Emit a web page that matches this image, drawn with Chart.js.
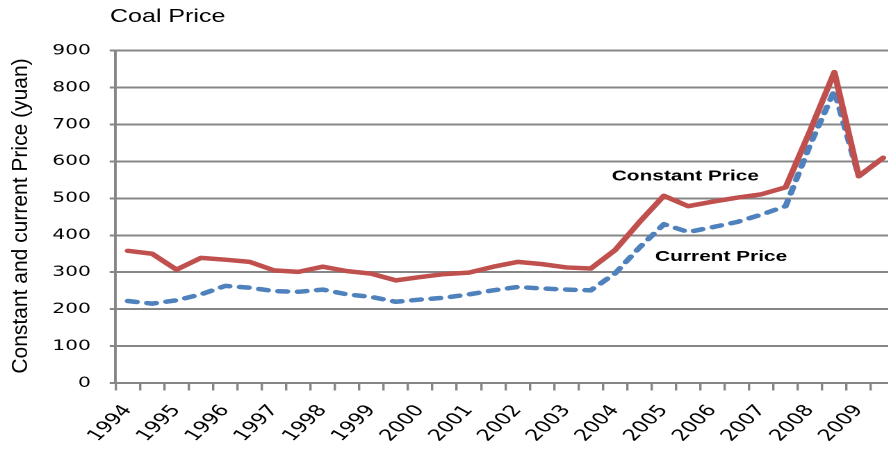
<!DOCTYPE html>
<html>
<head>
<meta charset="utf-8">
<script src="https://cdn.jsdelivr.net/npm/chart.js@4.4.1/dist/chart.umd.min.js"></script>
<style>
  html, body { margin: 0; padding: 0; background: #fff; overflow: hidden; width: 888px; height: 449px; }
  /* the whole drawing is widened horizontally by STRETCH */
  #wrap { position: absolute; left: 0; top: 0; width: 650px; height: 449px; transform: scaleX(1.39); transform-origin: 0 0; }
</style>
</head>
<body>
<div id="wrap"><canvas id="chart" width="650" height="449"></canvas></div>
<script>
// Half-yearly coal prices, 1994-2009
const years = ['1994', '1995', '1996', '1997', '1998', '1999', '2000', '2001',
               '2002', '2003', '2004', '2005', '2006', '2007', '2008', '2009'];
const halves = ['H1', 'H2'];
const periods = years.flatMap(y => halves.map(h => y + ' ' + h));
// only the first half of each year carries the year label
const periodTickLabels = periods.map(p => p.endsWith('H1') ? p.slice(0, 4) : '');

const constantPrice = [358, 350, 307, 339, 334, 328, 305, 301, 315, 303, 296, 278, 287, 295, 299, 315,
                       328, 322, 313, 310, 360, 436, 507, 479, 491, 502, 511, 530, 683, 842, 560, 610];
const currentPrice  = [222, 215, 224, 240, 263, 258, 249, 247, 253, 240, 233, 220, 226, 231, 240, 251,
                       260, 256, 253, 251, 297, 367, 430, 409, 422, 436, 456, 479, 645, 792, 560, 610];

const yTickValues = [0, 100, 200, 300, 400, 500, 600, 700, 800, 900];

const seriesNames = ['Constant Price', 'Current Price'];
const chartTitle = 'Coal Price';
const yAxisTitle = 'Constant and current Price (yuan)';

const STRETCH = 1.39;
const GRID = '#868686';

// heading, rotated axis title and the in-chart series labels
const chartTexts = {
  id: 'chartTexts',
  afterDraw(chart, args, opts) {
    const { ctx, scales: { x, y } } = chart;
    ctx.save();
    ctx.fillStyle = '#000';
    ctx.textBaseline = 'middle';

    ctx.font = '18px "Liberation Sans", Arial, sans-serif';
    ctx.textAlign = 'left';
    ctx.fillText(chartTitle, 79.1, 17);

    ctx.save();
    ctx.translate(15.1, 216);
    ctx.rotate(-Math.PI / 2);
    ctx.scale(1.33, 1);
    ctx.font = '15.8px "Liberation Sans", Arial, sans-serif';
    ctx.textAlign = 'center';
    ctx.fillText(yAxisTitle, 0, 0);
    ctx.restore();

    ctx.font = 'bold 15px "Liberation Sans", Arial, sans-serif';
    ctx.textAlign = 'left';
    for (const item of opts.items) {
      ctx.fillText(item.text, x.getPixelForValue(item.at), y.getPixelForValue(item.value));
    }
    ctx.restore();
  }
};

new Chart(document.getElementById('chart'), {
  type: 'line',
  data: {
    labels: periods,
    datasets: [
      {
        label: seriesNames[0],
        data: constantPrice,
        borderColor: '#C0504D',
        borderWidth: 4.5,
        borderCapStyle: 'round',
        borderJoinStyle: 'round',
        pointRadius: 0,
        tension: 0,
        fill: false
      },
      {
        label: seriesNames[1],
        data: currentPrice,
        borderColor: '#4F81BD',
        borderWidth: 4.5,
        borderDash: [6.5, 7.5],
        borderCapStyle: 'round',
        borderJoinStyle: 'round',
        pointRadius: 0,
        tension: 0,
        fill: false
      }
    ]
  },
  options: {
    responsive: false,
    animation: false,
    devicePixelRatio: 2,
    layout: { padding: { left: 0, right: 5.9, top: 50.7, bottom: 0 } },
    plugins: {
      legend: { display: false },
      tooltip: { enabled: false },
      chartTexts: {
        items: [
          { text: seriesNames[0], at: 19.86, value: 559 },
          { text: seriesNames[1], at: 21.64, value: 342 }
        ]
      }
    },
    scales: {
      x: {
        type: 'category',
        offset: true,
        grid: { display: true, drawOnChartArea: false, drawTicks: true, tickLength: 7.5, color: GRID, lineWidth: 1.7, offset: true },
        border: { display: true, color: GRID, width: 2 },
        ticks: {
          autoSkip: false,
          minRotation: 52,
          maxRotation: 52,
          padding: 11,
          color: '#000',
          font: { family: '"DejaVu Sans", Verdana, sans-serif', size: 16 },
          callback: (v, i) => periodTickLabels[i]
        },
        afterFit(scale) { scale.height = 66; scale.paddingLeft = 0; scale.paddingRight = 0; }
      },
      y: {
        min: yTickValues[0],
        max: yTickValues[yTickValues.length - 1],
        grid: { color: GRID, lineWidth: 2, drawTicks: true, tickLength: 4.3 },
        border: { display: true, color: GRID, width: 2 },
        ticks: {
          stepSize: yTickValues[1] - yTickValues[0],
          padding: 13.6,
          color: '#000',
          font: { family: '"DejaVu Sans", Verdana, sans-serif', size: 14.5 }
        },
        afterFit(scale) { scale.width = 83.2; }
      }
    }
  },
  plugins: [chartTexts]
});
</script>
</body>
</html>
